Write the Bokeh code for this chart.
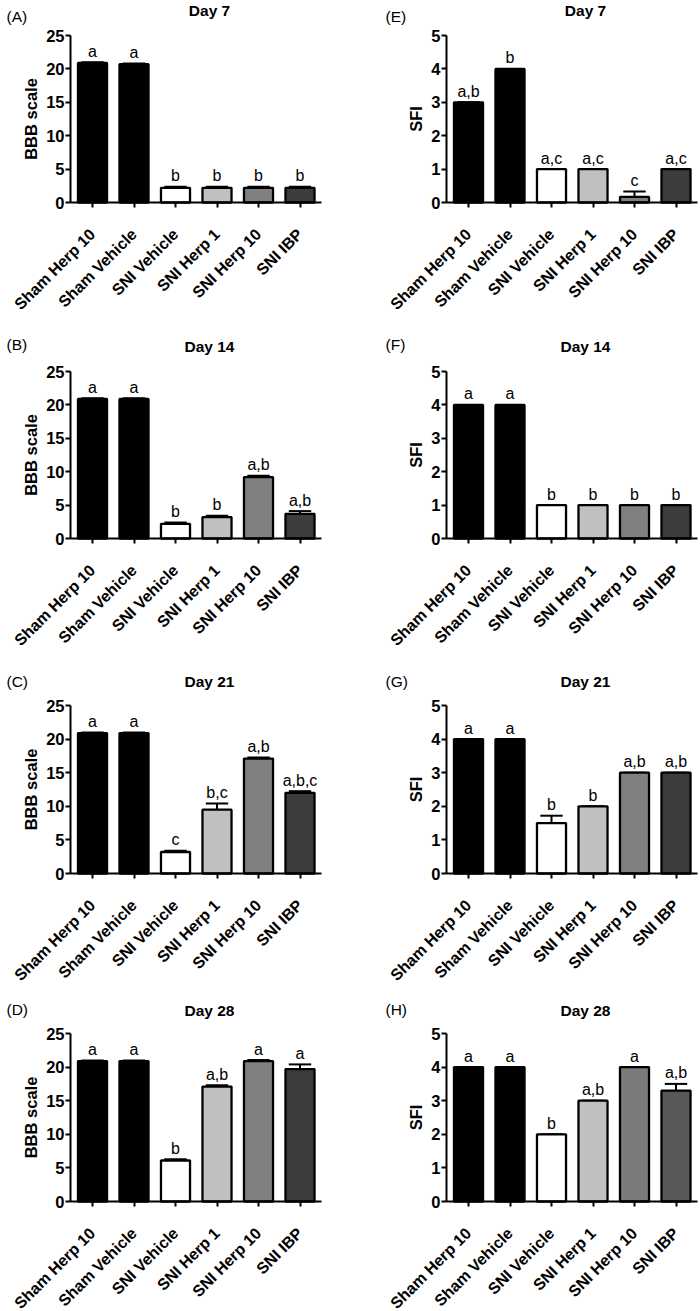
import math
from bokeh.plotting import figure
from bokeh.models import Range1d, FixedTicker, ColumnDataSource
from bokeh.layouts import column, row
from bokeh.embed import file_html
from bokeh.resources import INLINE
from bokeh.core.properties import value

# ---------------- data ----------------
groups = ["Sham Herp 10", "Sham Vehicle", "SNI Vehicle", "SNI Herp 1", "SNI Herp 10", "SNI IBP"]

bbb_day7 = [20.9, 20.7, 2.2, 2.2, 2.2, 2.2]
bbb_day7_err = [0.1, 0.1, 0.15, 0.15, 0.15, 0.15]
bbb_day7_sig = ["a", "a", "b", "b", "b", "b"]

bbb_day14 = [20.9, 20.9, 2.2, 3.2, 9.2, 3.7]
bbb_day14_err = [0.1, 0.1, 0.2, 0.2, 0.2, 0.4]
bbb_day14_sig = ["a", "a", "b", "b", "a,b", "a,b"]

bbb_day21 = [20.9, 20.9, 3.2, 9.5, 17.1, 12.0]
bbb_day21_err = [0.1, 0.1, 0.2, 0.9, 0.15, 0.25]
bbb_day21_sig = ["a", "a", "c", "b,c", "a,b", "a,b,c"]

bbb_day28 = [20.9, 20.9, 6.1, 17.1, 20.9, 19.7]
bbb_day28_err = [0.1, 0.1, 0.2, 0.2, 0.15, 0.7]
bbb_day28_sig = ["a", "a", "b", "a,b", "a", "a"]

sfi_day7 = [3.0, 4.0, 1.0, 1.0, 0.17, 1.0]
sfi_day7_err = [0.0, 0.0, 0.0, 0.0, 0.16, 0.0]
sfi_day7_sig = ["a,b", "b", "a,c", "a,c", "c", "a,c"]

sfi_day14 = [4.0, 4.0, 1.0, 1.0, 1.0, 1.0]
sfi_day14_err = [0.0, 0.0, 0.0, 0.0, 0.0, 0.0]
sfi_day14_sig = ["a", "a", "b", "b", "b", "b"]

sfi_day21 = [4.0, 4.0, 1.5, 2.0, 3.0, 3.0]
sfi_day21_err = [0.0, 0.0, 0.22, 0.0, 0.0, 0.0]
sfi_day21_sig = ["a", "a", "b", "b", "a,b", "a,b"]

sfi_day28 = [4.0, 4.0, 2.0, 3.0, 4.0, 3.3]
sfi_day28_err = [0.0, 0.0, 0.0, 0.0, 0.0, 0.2]
sfi_day28_sig = ["a", "a", "b", "a,b", "a", "a,b"]

fills_main = ["#000000", "#000000", "#ffffff", "#c0c0c0", "#808080", "#3c3c3c"]
fills_h = ["#000000", "#000000", "#ffffff", "#c0c0c0", "#7a7a7a", "#585858"]

FONT = "Liberation Sans"
x_pos = list(range(1, len(groups) + 1))

# ---------------- layout geometry (pixels) ----------------
FIG_W = 350
PX_PER_CAT = 41.5
BAR_W = 0.7
# per row: (figure height, y of axis top, y of zero line, title lift, letter lift)
rows_geo = [(330, 35, 202, 25, 19.5), (332, 41, 208, 25, 27),
            (328, 43, 211, 24, 24), (321, 43, 211, 23, 24)]
# per column: (axis x, first bar centre x, right end of x axis, letter x)
cols_geo = {True: (70, 92, 321, 6), False: (96, 118, 347, 35)}


def make_panel(letter, title, ylabel, ymax, ystep, vals, errs, sig, fills, left, geo):
    H, top_px, zero_px, tlift, llift = geo
    ax_px, c1_px, xr_px, let_px = cols_geo[left]
    x_start = 1 - c1_px / PX_PER_CAT
    x_end = x_start + FIG_W / PX_PER_CAT
    ax_x = x_start + ax_px / PX_PER_CAT
    ax_right = x_start + xr_px / PX_PER_CAT
    upp = ymax / (zero_px - top_px)
    y_end = zero_px * upp
    y_start = -(H - zero_px) * upp

    p = figure(width=FIG_W, height=H, min_border_left=0, min_border_right=0,
               min_border_top=0, min_border_bottom=0,
               x_range=Range1d(x_start, x_end), y_range=Range1d(y_start, y_end),
               output_backend="svg", toolbar_location=None, tools="")
    p.outline_line_color = None
    p.xgrid.visible = False
    p.ygrid.visible = False
    p.background_fill_color = "white"
    p.border_fill_color = "white"

    src = ColumnDataSource(dict(x=x_pos, v=vals, e=[v + e for v, e in zip(vals, errs)],
                                c=fills, s=sig,
                                xl=[x - 0.27 for x in x_pos], xr=[x + 0.27 for x in x_pos]))
    p.segment(x0="x", y0="v", x1="x", y1="e", source=src, line_color="black", line_width=2)
    p.segment(x0="xl", y0="e", x1="xr", y1="e", source=src, line_color="black", line_width=2)
    p.vbar(x="x", top="v", bottom=0, width=BAR_W, source=src, fill_color="c",
           line_color="black", line_width=2.3)
    p.text(x="x", y="e", text="s", source=src, text_align="center", text_baseline="alphabetic",
           y_offset=-11, text_font=value(FONT), text_font_size="16px", text_color="black")

    # title and panel letter
    p.text(x=[ax_x], y=[ymax], text=[title], x_offset=139, y_offset=-tlift,
           text_align="center", text_baseline="middle", text_font=value(FONT),
           text_font_size="15.5px", text_font_style="bold", text_color="black")
    p.text(x=[x_start], y=[ymax], text=[letter], x_offset=let_px, y_offset=-llift,
           text_align="left", text_baseline="middle", text_font=value(FONT),
           text_font_size="15.5px", text_color="black")

    # axes
    for ax in (p.xaxis, p.yaxis):
        ax.axis_line_width = 2
        ax.axis_line_color = "black"
        ax.major_tick_line_width = 2
        ax.major_tick_line_color = "black"
        ax.major_tick_in = 0
        ax.major_tick_out = 5
        ax.minor_tick_line_color = None
        ax.major_label_text_font = FONT
        ax.major_label_text_font_style = "bold"
        ax.major_label_text_color = "black"
    p.xaxis.fixed_location = 0
    p.xaxis.ticker = FixedTicker(ticks=x_pos)
    p.xaxis.major_label_overrides = {x: g for x, g in zip(x_pos, groups)}
    p.xaxis.major_label_orientation = math.pi / 4
    p.xaxis.major_label_text_font_size = "16px"
    p.xaxis.major_label_standoff = 24
    p.xaxis.bounds = (ax_x, ax_right)

    p.yaxis.fixed_location = ax_x
    p.yaxis.bounds = (0, ymax)
    p.yaxis.ticker = FixedTicker(ticks=list(range(0, ymax + 1, ystep)))
    p.yaxis.major_label_text_font_size = "16.5px"
    p.yaxis.major_label_standoff = 1
    p.yaxis.axis_label = ylabel
    p.yaxis.axis_label_text_font = FONT
    p.yaxis.axis_label_text_font_size = "16.5px"
    p.yaxis.axis_label_text_font_style = "bold"
    p.yaxis.axis_label_text_color = "black"
    p.yaxis.axis_label_standoff = 3
    return p


left_specs = [("(A)", "Day 7", bbb_day7, bbb_day7_err, bbb_day7_sig),
              ("(B)", "Day 14", bbb_day14, bbb_day14_err, bbb_day14_sig),
              ("(C)", "Day 21", bbb_day21, bbb_day21_err, bbb_day21_sig),
              ("(D)", "Day 28", bbb_day28, bbb_day28_err, bbb_day28_sig)]
right_specs = [("(E)", "Day 7", sfi_day7, sfi_day7_err, sfi_day7_sig, fills_main),
               ("(F)", "Day 14", sfi_day14, sfi_day14_err, sfi_day14_sig, fills_main),
               ("(G)", "Day 21", sfi_day21, sfi_day21_err, sfi_day21_sig, fills_main),
               ("(H)", "Day 28", sfi_day28, sfi_day28_err, sfi_day28_sig, fills_h)]

rows = []
for i in range(4):
    l = left_specs[i]
    r = right_specs[i]
    pl = make_panel(l[0], l[1], "BBB scale", 25, 5, l[2], l[3], l[4], fills_main, True, rows_geo[i])
    pr = make_panel(r[0], r[1], "SFI", 5, 1, r[2], r[3], r[4], r[5], False, rows_geo[i])
    rows.append(row(pl, pr, spacing=0))

layout = column(*rows, spacing=0)
open("out.html", "w").write(file_html(layout, INLINE))
